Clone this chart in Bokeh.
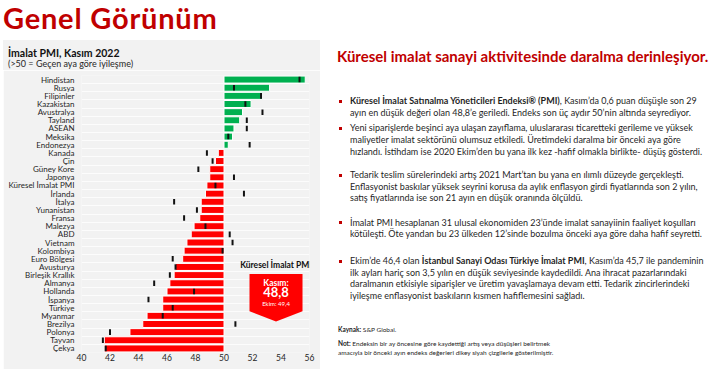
from bokeh.plotting import figure
from bokeh.models import Range1d, FixedTicker, Div, Spacer
from bokeh.layouts import column, row
from bokeh.embed import file_html
from bokeh.resources import INLINE
from bokeh.core.properties import value

countries = ["Hindistan", "Rusya", "Filipinler", "Kazakistan", "Avustralya", "Tayland",
             "ASEAN", "Meksika", "Endonezya", "Kanada", "Çin", "Güney Kore", "Japonya",
             "Küresel İmalat PMI", "İrlanda", "İtalya", "Yunanistan", "Fransa", "Malezya",
             "ABD", "Vietnam", "Kolombiya", "Euro Bölgesi", "Avusturya", "Birleşik Krallık",
             "Almanya", "Hollanda", "İspanya", "Türkiye", "Myanmar", "Brezilya", "Polonya",
             "Tayvan", "Çekya"]
pmi_nov = [55.7, 53.2, 52.7, 51.9, 51.3, 51.1, 50.7, 50.6, 50.3, 49.6, 49.4, 49.0, 49.0,
           48.8, 48.7, 48.4, 48.4, 48.3, 47.9, 47.7, 47.4, 47.2, 47.1, 46.6, 46.5, 46.2,
           46.0, 45.7, 45.7, 44.6, 44.3, 43.4, 41.6, 41.6]
pmi_oct = [55.3, 50.7, 52.6, 51.5, 52.7, 51.6, 51.6, 50.3, 51.8, 48.8, 49.2, 48.2, 50.7,
           49.4, 51.4, 46.5, 48.1, 47.2, 48.7, 50.4, 50.6, 49.9, 46.4, 46.6, 46.2, 45.1,
           47.9, 44.7, 46.4, 45.7, 50.8, 42.0, 41.5, 41.7]
x_ticks = [40, 42, 44, 46, 48, 50, 52, 54, 56]
global_name = "Küresel İmalat PMI"
chart_title = "İmalat PMI, Kasım 2022"
chart_subtitle = "(>50 = Geçen aya göre iyileşme)"

FONT = "Lato"
GRAY = "#F2F2F2"
TXT = "#262626"
RED = "#C00000"

n = len(countries)
idx = list(range(n))
colors = ["#00B050" if v >= 50 else "#FF0000" for v in pmi_nov]

p = figure(width=317, height=299, output_backend="svg", toolbar_location=None,
           x_range=Range1d(40, 56), y_range=Range1d(n - 0.5, -0.5),
           min_border_left=78, min_border_right=11, min_border_top=5, min_border_bottom=17,
           background_fill_color=GRAY, border_fill_color=GRAY, outline_line_color=None,
           margin=0)

p.hbar(y=idx, left=50, right=pmi_nov, height=0.86, fill_color=colors,
       line_color="white", line_width=1)
p.rect(x=pmi_oct, y=idx, width=2, width_units="screen", height=0.68,
       fill_color="#111111", line_color=None)

p.xaxis.ticker = FixedTicker(ticks=x_ticks)
p.yaxis.ticker = FixedTicker(ticks=idx)
p.yaxis.major_label_overrides = {i: c for i, c in enumerate(countries)}
for ax in (p.xaxis[0], p.yaxis[0]):
    ax.axis_line_color = None
    ax.major_tick_line_color = None
    ax.minor_tick_line_color = None
    ax.major_tick_out = 0
    ax.major_tick_in = 0
    ax.minor_tick_out = 0
    ax.minor_tick_in = 0
    ax.major_label_text_font = FONT
    ax.major_label_text_color = TXT
p.yaxis.major_label_text_font_size = "8px"
p.xaxis.major_label_text_font_size = "8.5px"
p.yaxis.major_label_standoff = 7
p.xaxis.major_label_standoff = 1
p.xgrid.grid_line_color = None
p.ygrid.ticker = FixedTicker(ticks=[i + 0.5 for i in range(-1, n)])
p.ygrid.grid_line_color = "#FCFCFC"
p.ygrid.grid_line_width = 1

# callout for global PMI
gi = countries.index(global_name)
fmt = lambda v: f"{v:.1f}".replace(".", ",")
cx0, cx1, cxm = 51.79, 55.51, 53.65
cy0, cy1, cy2 = 23.86, 28.45, 29.68
p.patch(x=[cx0, cx1, cx1, cxm, cx0], y=[cy0, cy0, cy1, cy2, cy1],
        fill_color="#FF0000", line_color=None)
p.text(x=[cxm], y=[22.79], text=[global_name], text_font=value(FONT), text_font_size="8.5px",
       text_font_style="bold", text_color="#111111", text_align="center", text_baseline="middle")
p.text(x=[cxm], y=[24.97], text=["Kasım:"], text_font=value(FONT), text_font_size="8.5px",
       text_font_style="bold", text_color="white", text_align="center", text_baseline="middle")
p.text(x=[cxm], y=[26.05], text=[fmt(pmi_nov[gi])], text_font=value(FONT), text_font_size="13px",
       text_font_style="bold", text_color="white", text_align="center", text_baseline="middle")
p.text(x=[cxm], y=[27.43], text=["Ekim: " + fmt(pmi_oct[gi])], text_font=value(FONT),
       text_font_size="6px", text_color="white", text_align="center", text_baseline="middle")


def ln(top, left, html, size=9, lh=12, color="#1f1f1f", extra=""):
    return (f'<div style="position:absolute;left:{left}px;top:{top}px;white-space:nowrap;'
            f'font-size:{size}px;line-height:{lh}px;color:{color};{extra}">{html}</div>')


title_div = Div(width=720, height=40, margin=0, text=(
    '<div style="position:relative;width:720px;height:40px;font-family:Lato;">'
    + ln(3, 3, 'Genel Görünüm', size=29, lh=30, color=RED,
         extra="font-weight:bold;letter-spacing:0.8px;")
    + '</div>'))

chart_head = Div(width=317, height=30, margin=0, text=(
    f'<div style="position:relative;width:317px;height:30px;background:{GRAY};font-family:Lato;">'
    + ln(6.5, 5, chart_title, size=10.5, lh=12, color="#111111", extra="font-weight:bold;")
    + ln(17.5, 5, chart_subtitle, size=9, lh=12, color=TXT)
    + '</div>'))


def bullet(top):
    return (f'<div style="position:absolute;left:19px;top:{top + 4.5}px;width:3px;height:3px;'
            f'background:{RED};"></div>')


paras = [
    [55, ['<b>Küresel İmalat Satınalma Yöneticileri Endeksi® (PMI)</b>, Kasım’da 0,6 puan düşüşle son 29',
          'ayın en düşük değeri olan 48,8’e geriledi. Endeks son üç aydır 50’nin altında seyrediyor.']],
    [82.3, ['Yeni siparişlerde beşinci aya ulaşan zayıflama, uluslararası ticaretteki gerileme ve yüksek',
            'maliyetler imalat sektörünü olumsuz etkiledi. Üretimdeki daralma bir önceki aya göre',
            'hızlandı. İstihdam ise 2020 Ekim’den bu yana ilk kez -hafif olmakla birlikte- düşüş gösterdi.']],
    [129, ['Tedarik teslim sürelerindeki artış 2021 Mart’tan bu yana en ılımlı düzeyde gerçekleşti.',
           'Enflasyonist baskılar yüksek seyrini korusa da aylık enflasyon girdi fiyatlarında son 2 yılın,',
           'satış fiyatlarında ise son 21 ayın en düşük oranında ölçüldü.']],
    [176.7, ['İmalat PMI hesaplanan 31 ulusal ekonomiden 23’ünde imalat sanayiinin faaliyet koşulları',
             'kötüleşti. Öte yandan bu 23 ülkeden 12’sinde bozulma önceki aya göre daha hafif seyretti.']],
    [215, ['Ekim’de 46,4 olan <b>İstanbul Sanayi Odası Türkiye İmalat PMI</b>, Kasım’da 45,7 ile pandeminin',
           'ilk ayları hariç son 3,5 yılın en düşük seviyesinde kaydedildi. Ana ihracat pazarlarındaki',
           'daralmanın etkisiyle siparişler ve üretim yavaşlamaya devam etti. Tedarik zincirlerindeki',
           'iyileşme enflasyonist baskıların kısmen hafiflemesini sağladı.']],
]

parts = ['<div style="position:relative;width:400px;height:329px;font-family:Lato;">']
parts.append(ln(8, 17, 'Küresel imalat sanayi aktivitesinde daralma derinleşiyor.', size=15,
                lh=16, color=RED, extra="font-weight:bold;"))
for top, lines in paras:
    parts.append(bullet(top))
    for k, t in enumerate(lines):
        parts.append(ln(round(top + k * 11.6, 1), 30, t))
parts.append(ln(285, 18, '<b>Kaynak:</b> S&amp;P Global.', size=6.5, lh=10))
parts.append(ln(298.5, 18, '<b>Not:</b> Endeksin bir ay öncesine göre kaydettiği artış veya düşüşleri belirtmek',
                size=6.5, lh=10))
parts.append(ln(307.5, 18, 'amacıyla bir önceki ayın endeks değerleri dikey siyah çizgilerle gösterilmiştir.',
                size=6.5, lh=10))
parts.append('</div>')
text_div = Div(width=400, height=329, margin=0, text="".join(parts))

left_pad = Spacer(width=3, height=329, margin=0)
layout = column(title_div,
                row(left_pad, column(chart_head, p, spacing=0), text_div, spacing=0),
                spacing=0)
open("out.html", "w").write(file_html(layout, INLINE))
